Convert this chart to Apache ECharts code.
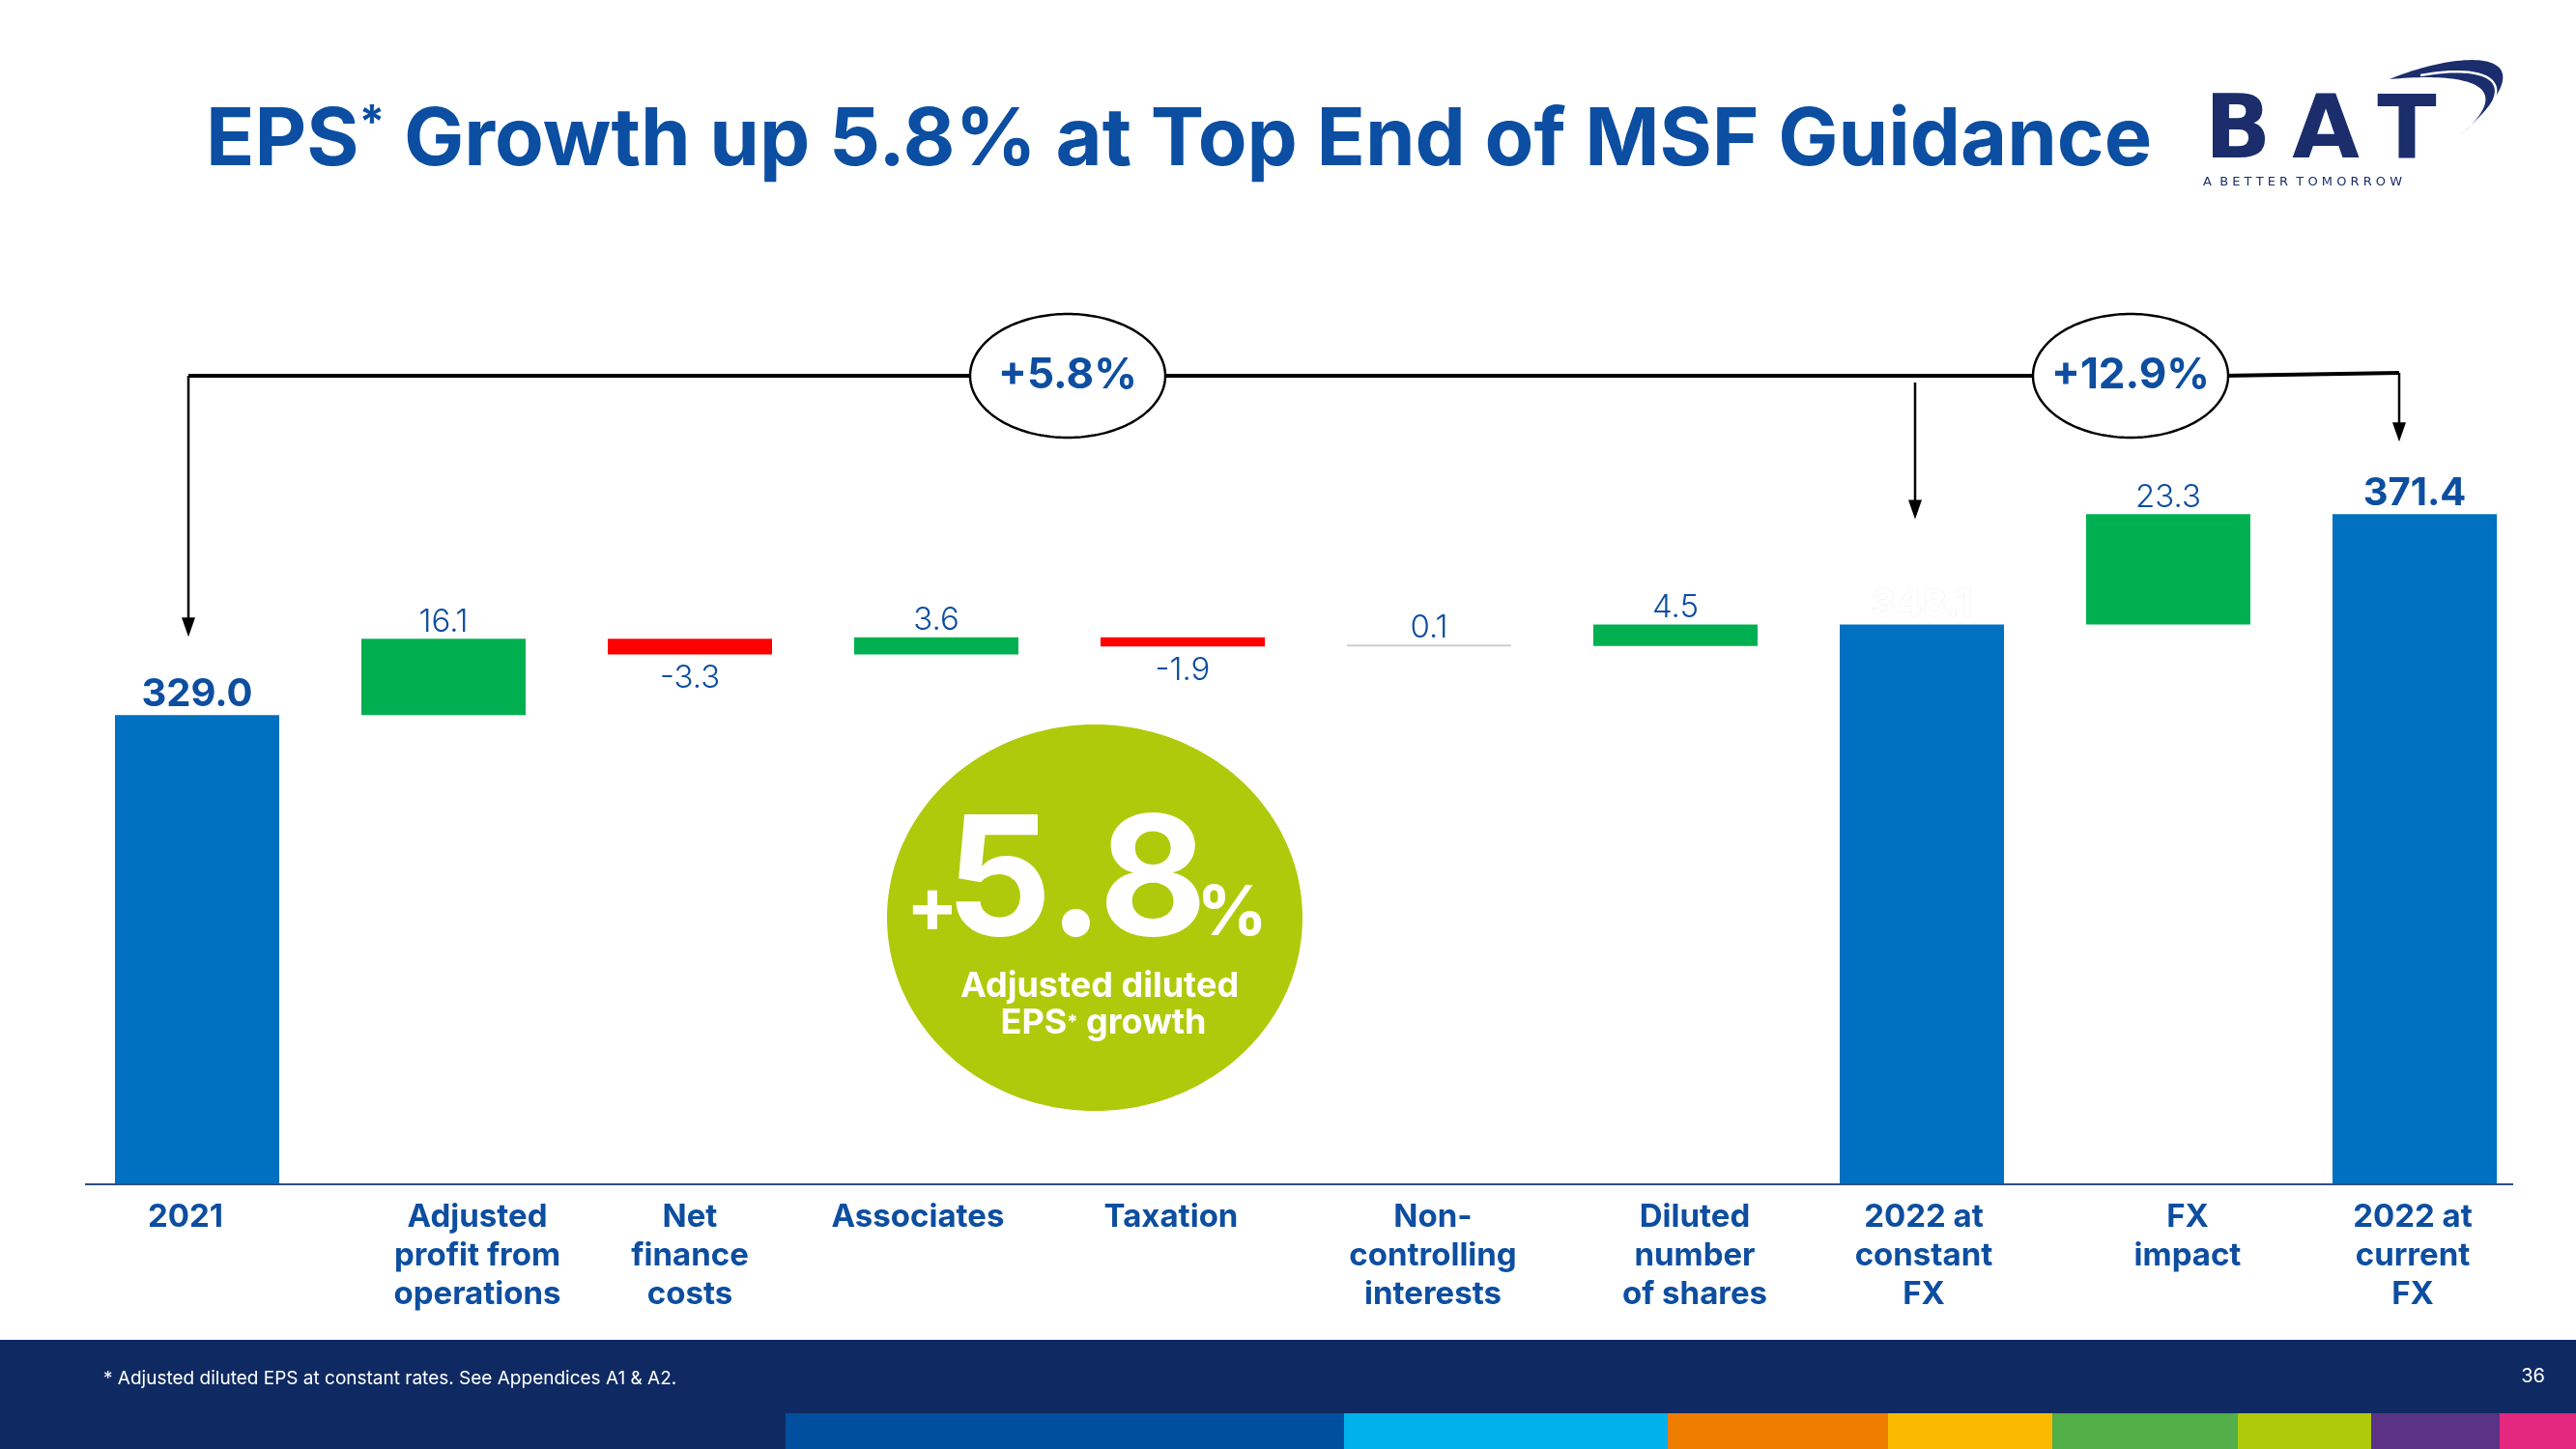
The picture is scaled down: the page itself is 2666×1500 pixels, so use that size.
<!DOCTYPE html>
<html><head><meta charset="utf-8">
<script src="https://cdn.jsdelivr.net/npm/echarts@6/dist/echarts.min.js"></script>
<style>html,body{margin:0;padding:0;background:#fff}#c{width:2666px;height:1500px}</style>
</head><body><div id="c"></div>
<script>
// ---------- data ----------
const categories = ['2021', 'Adjusted\nprofit from\noperations', 'Net\nfinance\ncosts', 'Associates', 'Taxation',
  'Non-\ncontrolling\ninterests', 'Diluted\nnumber\nof shares', '2022 at\nconstant\nFX', 'FX\nimpact', '2022 at\ncurrent\nFX'];
const values = [329.0, 16.1, -3.3, 3.6, -1.9, 0.1, 4.5, 348.1, 23.3, 371.4];
const kinds = ['total', 'delta', 'delta', 'delta', 'delta', 'delta', 'delta', 'total', 'delta', 'total'];
const valueLabels = ['329.0', '16.1', '-3.3', '3.6', '-1.9', '0.1', '4.5', '348.1', '23.3', '371.4'];
const growthLabels = ['+5.8%', '+12.9%'];
const axisMin = 230, axisMax = 400;

// ---------- styles ----------
const FONT = 'Inter, "Open Sans", sans-serif';
const BLUE_TXT = '#0D4EA0';
const COL = { total: '#0070C0', pos: '#00B050', neg: '#FF0000', tiny: '#c9d0d6' };
// horizontal nudge of each category label (px, + = right)
const labelShift = [-12, 35, 0, -19, -12, 4, 20, 2, 20, -2];

// waterfall helper (invisible base) + visible part
const helper = [], visible = [];
let running = 0;
values.forEach((v, i) => {
  const isTotal = kinds[i] === 'total';
  let base, h;
  if (isTotal) { base = axisMin; h = v - axisMin; running = v; }
  else { base = v >= 0 ? running : running + v; h = Math.abs(v); running += v; }
  helper.push(base);
  const color = isTotal ? COL.total : (Math.abs(v) < 0.5 ? COL.tiny : (v >= 0 ? COL.pos : COL.neg));
  const below = !isTotal && v < 0;
  visible.push({
    value: h,
    itemStyle: { color },
    label: {
      show: true,
      position: below ? 'bottom' : 'top',
      distance: below ? 8 : 1,
      formatter: valueLabels[i],
      fontFamily: FONT,
      fontSize: isTotal ? 40 : 33,
      fontWeight: isTotal ? 'bold' : 300,
      color: i === 7 ? '#ffffff' : BLUE_TXT,
      textBorderColor: i === 7 ? 'rgba(0,0,0,0.08)' : 'transparent',
      textBorderWidth: i === 7 ? 1 : 0
    }
  });
});

const rich = {};
labelShift.forEach((s, i) => {
  rich['c' + i] = { color: BLUE_TXT, fontFamily: FONT, fontWeight: 'bold', fontSize: 33, lineHeight: 40,
    padding: [0, s < 0 ? -2 * s : 0, 0, s > 0 ? 2 * s : 0] };
});

const chart = echarts.init(document.getElementById('c'), null, { renderer: 'canvas' });
chart.setOption({
  animation: false,
  backgroundColor: '#ffffff',
  grid: { left: 76.5, right: 39.5, top: 392, bottom: 274, containLabel: false },
  xAxis: {
    type: 'category', data: categories,
    axisLine: { show: false },
    axisTick: { show: false },
    axisLabel: {
      interval: 0, color: BLUE_TXT, fontFamily: FONT, fontWeight: 'bold', fontSize: 33, lineHeight: 40, margin: 14,
      formatter: (val, idx) => val.split('\n').map(l => '{c' + idx + '|' + l + '}').join('\n'),
      rich
    }
  },
  yAxis: { type: 'value', min: axisMin, max: axisMax, show: false, splitLine: { show: false } },
  series: [
    { type: 'bar', stack: 'w', data: helper, barWidth: 170, itemStyle: { color: 'transparent' }, silent: true },
    { type: 'bar', stack: 'w', data: visible, barWidth: 170, barMinHeight: 2 }
  ]
});

// ---------- annotations ----------
const px = (i, v) => chart.convertToPixel({ gridIndex: 0 }, [i, v]);
const g = [];
function ellipsePts(cx, cy, rx, ry) {
  const pts = [];
  for (let k = 0; k < 180; k++) { const a = k / 180 * Math.PI * 2; pts.push([cx + rx * Math.cos(a), cy + ry * Math.sin(a)]); }
  return pts;
}
function arrow(x, y1, y2, z) {
  g.push({ type: 'line', z, shape: { x1: x, y1: y1, x2: x, y2: y2 - 16 }, style: { stroke: '#000', lineWidth: 2.5 } });
  g.push({ type: 'polygon', z, shape: { points: [[x, y2], [x - 7, y2 - 20], [x + 7, y2 - 20]] }, style: { fill: '#000' } });
}
const axisY = px(0, axisMin)[1];
g.push({ type: 'line', z: 5, shape: { x1: 88, y1: axisY, x2: 2601, y2: axisY }, style: { stroke: '#2B4F7E', lineWidth: 2 } });

const lineY = 389;
const xL = px(0, 0)[0] - 9, xM = px(7, 0)[0] - 7, xR = px(9, 0)[0] - 16;
const topOf = i => px(i, values[i])[1];
g.push({ type: 'line', z: 10, shape: { x1: xL, y1: lineY, x2: 2300, y2: lineY }, style: { stroke: '#000', lineWidth: 4 } });
g.push({ type: 'line', z: 10, shape: { x1: 2300, y1: lineY, x2: xR, y2: lineY - 3 }, style: { stroke: '#000', lineWidth: 4 } });
arrow(xL, lineY, topOf(0) - 81, 10);
arrow(xM, lineY + 7, topOf(7) - 109, 10);
arrow(xR, lineY - 3, topOf(9) - 75, 10);
const ell = [[1105, 389], [2205, 389]];
ell.forEach((c, k) => {
  g.push({ type: 'polygon', z: 12, shape: { points: ellipsePts(c[0], c[1], 101, 64) }, style: { fill: '#fff', stroke: '#000', lineWidth: 2.5 } });
  g.push({ type: 'text', z: 13, x: c[0], y: c[1], style: { text: growthLabels[k], fontFamily: FONT, fontWeight: 'bold', fontSize: 44, fill: BLUE_TXT, align: 'center', verticalAlign: 'middle' } });
});

// green badge
g.push({ type: 'polygon', z: 20, shape: { points: ellipsePts(1133, 950, 215, 200) }, style: { fill: '#AFCA0B' } });
g.push({ type: 'text', z: 21, x: 965, y: 941, style: { text: '+', fontFamily: FONT, fontWeight: 'bold', fontSize: 80, fill: '#fff', align: 'center', verticalAlign: 'middle' } });
g.push({ type: 'text', z: 21, x: 1114, y: 916, style: { text: '5.8', fontFamily: FONT, fontWeight: 'bold', fontSize: 172, fill: '#fff', align: 'center', verticalAlign: 'middle' } });
g.push({ type: 'text', z: 21, x: 1275, y: 946, style: { text: '%', fontFamily: FONT, fontWeight: 'bold', fontSize: 72, fill: '#fff', align: 'center', verticalAlign: 'middle' } });
g.push({ type: 'text', z: 21, x: 1138, y: 1021, style: { text: 'Adjusted diluted', fontFamily: FONT, fontWeight: 'bold', fontSize: 36, fill: '#fff', align: 'center', verticalAlign: 'middle' } });
g.push({ type: 'text', z: 21, x: 1142, y: 1059, style: {
  text: '{a|EPS}{s|*}{a| growth}', align: 'center', verticalAlign: 'middle',
  rich: { a: { fontFamily: FONT, fontWeight: 'bold', fontSize: 36, fill: '#fff' },
          s: { fontFamily: FONT, fontWeight: 'bold', fontSize: 20, fill: '#fff', verticalAlign: 'middle' } } } });

// title
g.push({ type: 'text', z: 30, x: 213, y: 146, style: {
  text: '{a|EPS}{s|*}{a| Growth up 5.8% at Top End of MSF Guidance}', align: 'left', verticalAlign: 'middle',
  rich: { a: { fontFamily: FONT, fontWeight: 'bold', fontSize: 83, fill: '#0B4EA2' },
          s: { fontFamily: FONT, fontWeight: 'bold', fontSize: 48, fill: '#0B4EA2', verticalAlign: 'top' } } } });

// logo
const NAVY = '#1B2D6B';
[['B', 2316], ['A', 2407], ['T', 2491]].forEach(([t, x]) => {
  g.push({ type: 'text', z: 30, x, y: 140, style: { text: t, fontFamily: '"DejaVu Sans", sans-serif', fontWeight: 'bold', fontSize: 90, fill: NAVY, align: 'center', verticalAlign: 'middle' } });
});
g.push({ type: 'text', z: 30, x: 2280, y: 189, style: { text: 'A  B E T T E R  T O M O R R O W', fontFamily: '"DejaVu Sans", sans-serif', fontSize: 13, fill: NAVY, align: 'left', verticalAlign: 'middle' } });
function cb(p0, c1, c2, p3, n) {
  const out = [];
  for (let k = 0; k <= n; k++) {
    const t = k / n, u = 1 - t;
    out.push([u * u * u * p0[0] + 3 * u * u * t * c1[0] + 3 * u * t * t * c2[0] + t * t * t * p3[0],
              u * u * u * p0[1] + 3 * u * u * t * c1[1] + 3 * u * t * t * c2[1] + t * t * t * p3[1]]);
  }
  return out;
}
const sw = cb([2473, 82], [2550, 50], [2650, 48], [2545, 141], 50).concat(cb([2545, 141], [2605, 90], [2560, 74], [2473, 82], 50));
g.push({ type: 'polygon', z: 30, shape: { points: sw }, style: { fill: NAVY } });
g.push({ type: 'polyline', z: 31, shape: { points: cb([2505, 78], [2570, 66], [2610, 82], [2562, 128], 30) }, style: { stroke: '#fff', lineWidth: 2.5, fill: null } });

// footer
g.push({ type: 'rect', z: 40, shape: { x: 0, y: 1387, width: 2666, height: 113 }, style: { fill: '#0F2A62' } });
g.push({ type: 'text', z: 41, x: 107, y: 1427, style: { text: '* Adjusted diluted EPS at constant rates. See Appendices A1 & A2.', fontFamily: FONT, fontSize: 19, fill: '#fff', align: 'left', verticalAlign: 'middle' } });
g.push({ type: 'text', z: 41, x: 2634, y: 1425, style: { text: '36', fontFamily: FONT, fontSize: 20, fill: '#fff', align: 'right', verticalAlign: 'middle' } });
const strip = [[813, 1391, '#004F9F'], [1391, 1726, '#00B1EB'], [1726, 1954, '#EF7D00'], [1954, 2124, '#FBBA00'], [2124, 2316, '#52AE47'], [2316, 2454, '#AFCA0B'], [2454, 2587, '#5A3286'], [2587, 2666, '#E5287F']];
strip.forEach(([a, b, c]) => g.push({ type: 'rect', z: 41, shape: { x: a, y: 1463, width: b - a, height: 37 }, style: { fill: c } }));

chart.setOption({ graphic: g });
</script></body></html>
